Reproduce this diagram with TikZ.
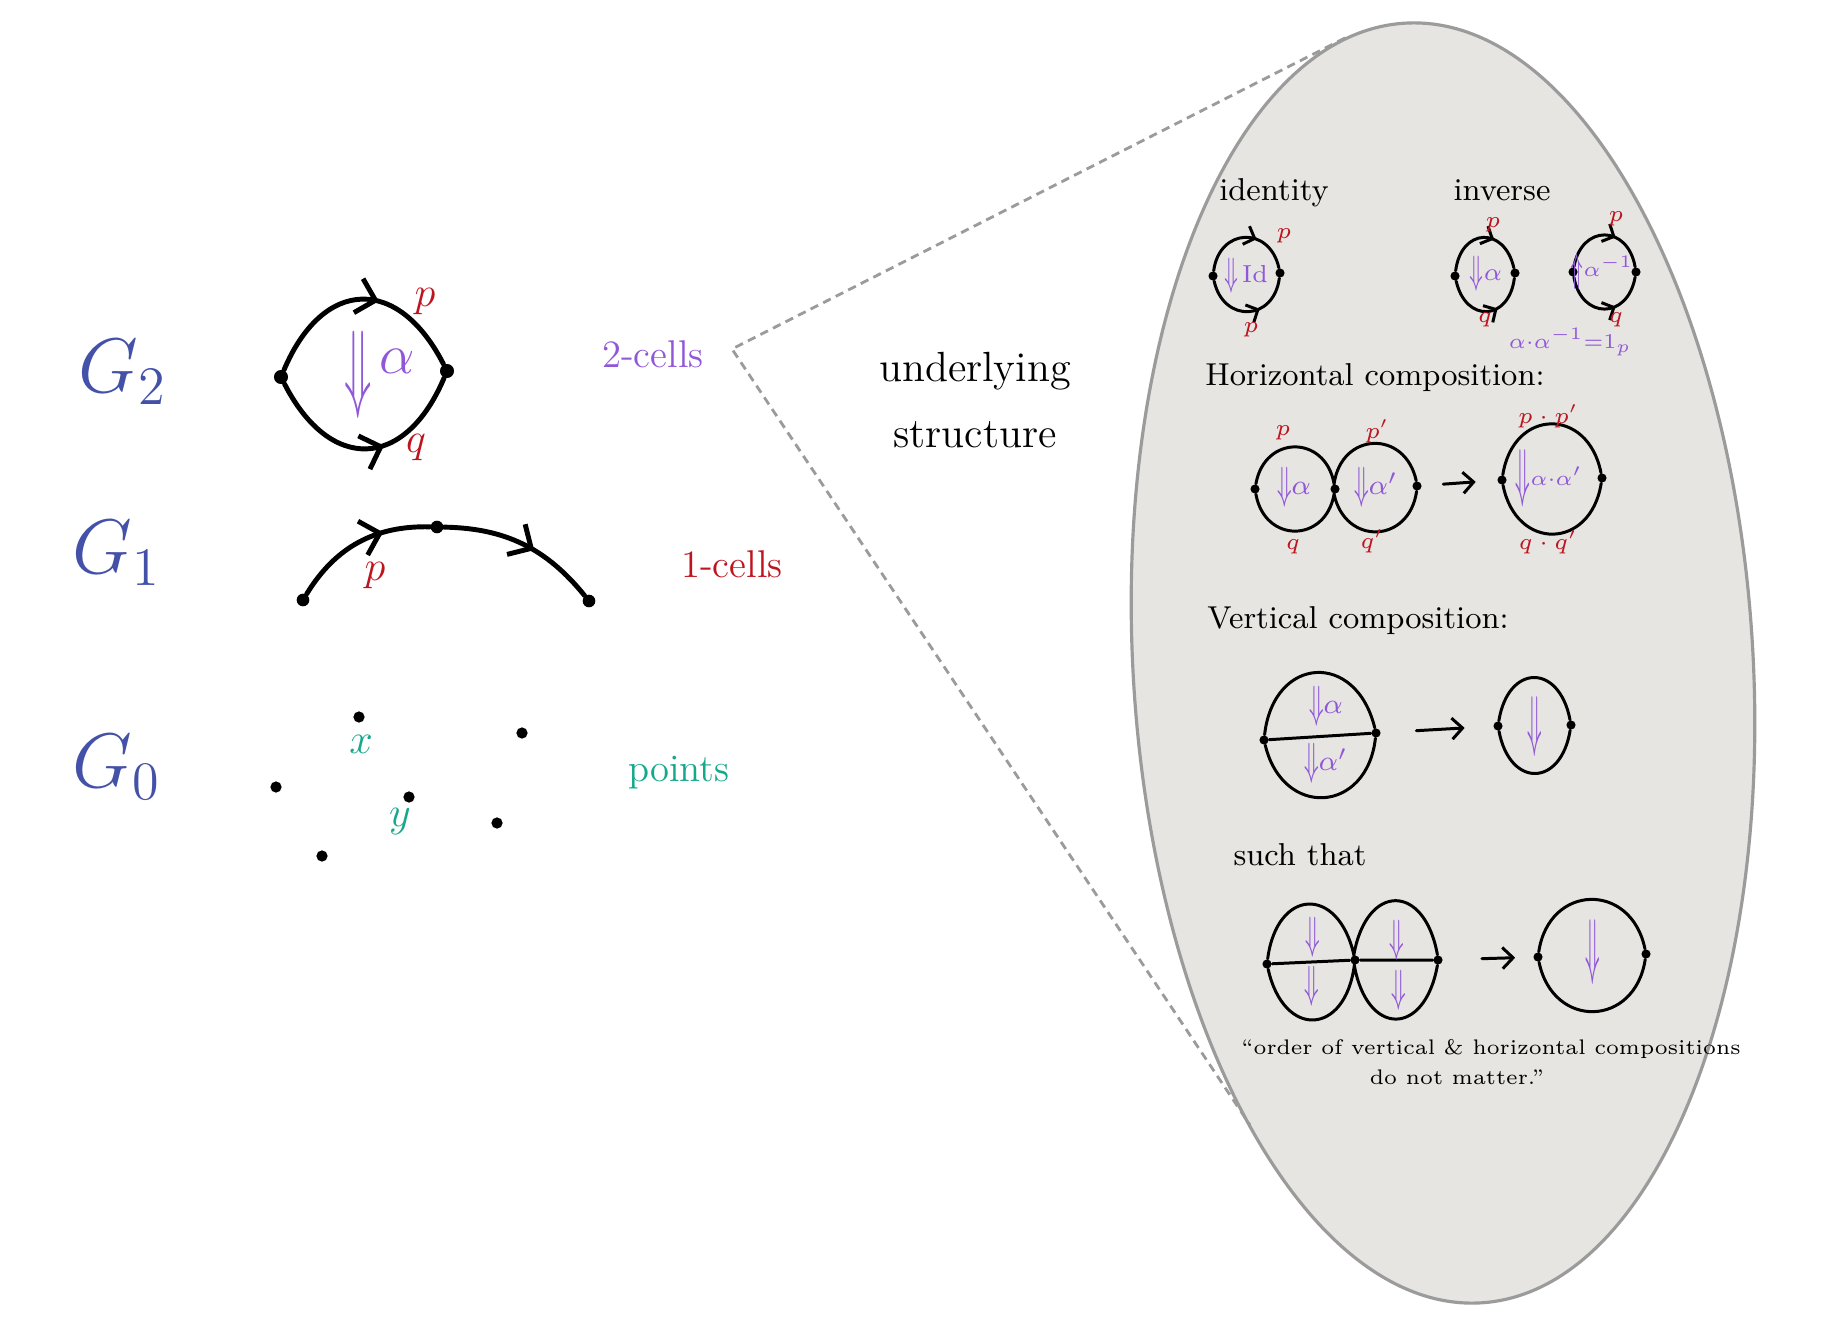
\RequirePackage{fix-cm}
\documentclass[tikz,border=0pt]{standalone}
\usetikzlibrary{arrows.meta,decorations.markings}

\definecolor{gblue}{HTML}{4451A8}
\definecolor{cellpurple}{HTML}{9057D9}
\definecolor{cellred}{HTML}{BE141E}
\definecolor{ptteal}{HTML}{16A88C}
\definecolor{lensgray}{HTML}{E6E5E1}
\definecolor{rimgray}{HTML}{9B9B9B}

\newcommand{\dnarr}[1][1.6]{\ensuremath{\vcenter{\hbox{\scalebox{0.8}[#1]{$\Downarrow$}}}}}
\newcommand{\uparr}[1][1.6]{\ensuremath{\vcenter{\hbox{\scalebox{0.8}[#1]{$\Uparrow$}}}}}

\begin{document}
\begin{tikzpicture}[
    x=0.01cm, y=0.01cm,
    bigdot/.style={circle, fill=black, inner sep=0pt, minimum size=#1},
    bigdot/.default=4pt,
    tinydot/.style={circle, fill=black, inner sep=0pt, minimum size=2.6pt},
    cell/.style={line width=1.4pt, line cap=round},
    thincell/.style={line width=0.85pt, line cap=round},
    midarrow/.style={postaction={decorate, decoration={markings,
        mark=at position #1 with {\arrow{Straight Barb[length=5pt,width=10pt]}}}}},
    midarrow/.default=0.58,
    smallarrow/.style={postaction={decorate, decoration={markings,
        mark=at position #1 with {\arrow{Straight Barb[length=2.6pt,width=5.5pt]}}}}},
    smallarrow/.default=0.62,
    gradelabel/.style={text=gblue, font=\fontsize{22}{26}\selectfont},
    cellname/.style={font=\fontsize{11}{13}\selectfont},
    onename/.style={text=cellred, font=\fontsize{12}{14}\selectfont},
    ptname/.style={text=ptteal, font=\fontsize{12}{14}\selectfont},
    tinyname/.style={text=cellred, font=\fontsize{6.5}{8}\selectfont, inner sep=1pt},
    twocell/.style={text=cellpurple, font=\fontsize{8}{10}\selectfont, inner sep=1pt},
    heading/.style={font=\fontsize{9}{11}\selectfont},
    remark/.style={font=\fontsize{6}{8}\selectfont},
    maps/.style={thincell, -{Straight Barb[length=3pt,width=6pt]}},
    lens/.style={fill=lensgray, draw=rimgray, line width=0.9pt},
    zoomline/.style={draw=rimgray, line width=0.8pt, dash pattern=on 2.4pt off 1.6pt}
]
    \path[use as bounding box, fill=white] (0,0) rectangle (1836,-1336);
    \draw[lens, rotate around={3.4:(1443,-663)}] (1443,-663) ellipse [x radius=310, y radius=641];

    \node[gradelabel] (gtwo) at (123,-372) {$G_2$};
    \node[gradelabel] (gone) at (117,-553) {$G_1$};
    \node[gradelabel] (gzero) at (117,-767) {$G_0$};

    \node[bigdot] (src) at (281,-377) {};
    \node[bigdot] (tgt) at (447,-371) {};
    \draw[cell, midarrow] (src) to[bend left=65, looseness=1.6] (tgt);
    \draw[cell, midarrow] (src) to[bend right=65, looseness=1.6] (tgt);
    \node[onename] (ptop) at (425,-302) {$p$};
    \node[onename] (qbot) at (416,-448) {$q$};
    \node[twocell, font=\fontsize{16}{18}\selectfont] (alphacell) at (358,-375) {\dnarr[1.75]};
    \node[twocell, font=\fontsize{16}{18}\selectfont] (alphaname) at (397,-361) {$\alpha$};
    \node[cellname, text=cellpurple] (twocells) at (653,-354) {2-cells};

    \node[bigdot=3.6pt] (ostart) at (303,-600) {};
    \node[bigdot=3.6pt] (omid) at (437,-527) {};
    \node[bigdot=3.6pt] (oend) at (589,-601) {};
    \draw[cell, midarrow=0.68] (ostart) to[bend left=30] (omid);
    \draw[cell, midarrow=0.58] (omid) to[bend left=25] (oend);
    \node[onename] (pone) at (375,-576) {$p$};
    \node[cellname, text=cellred] (onecells) at (732,-564) {1-cells};

    \node[bigdot=3.2pt] (ptx) at (359,-717) {};
    \node[bigdot=3.2pt] (pta) at (522,-733) {};
    \node[bigdot=3.2pt] (ptb) at (276,-787) {};
    \node[bigdot=3.2pt] (pty) at (409,-797) {};
    \node[bigdot=3.2pt] (ptc) at (497,-823) {};
    \node[bigdot=3.2pt] (ptd) at (322,-856) {};
    \node[ptname] (xname) at (361,-744) {$x$};
    \node[ptname] (yname) at (400,-822) {$y$};
    \node[cellname, text=ptteal] (points) at (679,-773) {points};

    \node[align=center, font=\fontsize{12}{19}\selectfont] (under) at (975,-400) {underlying\\structure};

    \coordinate (apex) at (732,-349);
    \coordinate (rimtop) at (1345,-38);
    \coordinate (rimlow) at (1250,-1125);
    \draw[zoomline] (rimtop) -- (apex) -- (rimlow);

    \node[heading] (identity) at (1274,-193) {identity};
    \node[tinydot] (idl) at (1213,-276) {};
    \node[tinydot] (idr) at (1280,-273) {};
    \draw[thincell, smallarrow] (idl) to[bend left=80, looseness=1.7] (idr);
    \draw[thincell, smallarrow] (idl) to[bend right=80, looseness=1.7] (idr);
    \node[tinyname] (idp) at (1284,-236) {$p$};
    \node[tinyname] (idpp) at (1251,-330) {$p$};
    \node[twocell, font=\fontsize{7}{8}\selectfont] (idcell) at (1246,-276) {\dnarr\,Id};

    \node[heading] (inverse) at (1502,-190) {inverse};
    \node[tinydot] (ival) at (1455,-276) {};
    \node[tinydot] (ivar) at (1515,-273) {};
    \draw[thincell, smallarrow] (ival) to[bend left=80, looseness=1.9] (ivar);
    \draw[thincell, smallarrow] (ival) to[bend right=80, looseness=1.9] (ivar);
    \node[tinyname] (ivp) at (1493,-225) {$p$};
    \node[tinyname] (ivq) at (1485,-320) {$q$};
    \node[twocell, font=\fontsize{7}{8}\selectfont] (ivcell) at (1486,-274) {\dnarr$\alpha$};
    \node[tinydot] (ivbl) at (1573,-272) {};
    \node[tinydot] (ivbr) at (1636,-272) {};
    \draw[thincell, smallarrow] (ivbl) to[bend left=80, looseness=1.81] (ivbr);
    \draw[thincell, smallarrow] (ivbl) to[bend right=80, looseness=1.81] (ivbr);
    \node[tinyname] (ivbp) at (1616,-219) {$p$};
    \node[tinyname] (ivbq) at (1616,-320) {$q$};
    \node[twocell, font=\fontsize{6}{7}\selectfont] (ivbcell) at (1602,-271) {\uparr[1.9]$\alpha^{-1}$};
    \node[twocell, font=\fontsize{6}{7}\selectfont] (ideq) at (1570,-342) {$\alpha{\cdot}\alpha^{-1}{=}1_p$};

    \node[heading] (horiz) at (1375,-378) {Horizontal composition:};
    \node[tinydot] (ha) at (1255,-489) {};
    \node[tinydot] (hb) at (1335,-489) {};
    \node[tinydot] (hc) at (1417,-486) {};
    \draw[thincell] (ha) to[bend left=80, looseness=1.64] (hb) to[bend left=80, looseness=1.64] (hc);
    \draw[thincell] (ha) to[bend right=80, looseness=1.64] (hb) to[bend right=80, looseness=1.64] (hc);
    \node[tinyname] (hp) at (1283,-433) {$p$};
    \node[tinyname] (hpb) at (1377,-431) {$p'$};
    \node[tinyname] (hq) at (1293,-547) {$q$};
    \node[tinyname] (hqb) at (1372,-541) {$q'$};
    \node[twocell] (hacell) at (1294,-487) {\dnarr$\alpha$};
    \node[twocell] (hbcell) at (1376,-487) {\dnarr$\alpha'$};
    \node[tinydot] (hd) at (1502,-480) {};
    \node[tinydot] (he) at (1602,-478) {};
    \draw[maps, shorten <=6pt, shorten >=6pt] (hc) -- (hd);
    \draw[thincell] (hd) to[bend left=80, looseness=1.76] (he);
    \draw[thincell] (hd) to[bend right=80, looseness=1.76] (he);
    \node[tinyname] (hpp) at (1548,-416) {$p\cdot p'$};
    \node[tinyname] (hqq) at (1548,-542) {$q\cdot q'$};
    \node[twocell] (hdcell) at (1549,-478) {\dnarr[2.3]{\fontsize{6}{7}\selectfont$\alpha{\cdot}\alpha'$}};

    \node[heading] (vert) at (1358,-621) {Vertical composition:};
    \node[tinydot] (va) at (1264,-740) {};
    \node[tinydot] (vb) at (1376,-733) {};
    \draw[thincell] (va) to[bend left=80, looseness=1.85] (vb);
    \draw[thincell] (va) to[bend right=80, looseness=1.76] (vb);
    \draw[thincell] (va) -- (vb);
    \node[twocell] (vacell) at (1326,-706) {\dnarr$\alpha$};
    \node[twocell] (vbcell) at (1326,-763) {\dnarr$\alpha'$};
    \node[tinydot] (vc) at (1498,-726) {};
    \node[tinydot] (vd) at (1571,-725) {};
    \draw[maps, shorten <=10pt, shorten >=8pt] (vb) -- (vc);
    \draw[thincell] (vc) to[bend left=80, looseness=2.08] (vd);
    \draw[thincell] (vc) to[bend right=80, looseness=2.08] (vd);
    \node[twocell] (vccell) at (1535,-727) {\dnarr[2.4]};

    \node[heading] (such) at (1300,-855) {such that};
    \node[tinydot] (sa) at (1267,-964) {};
    \node[tinydot] (sb) at (1355,-960) {};
    \node[tinydot] (sc) at (1438,-960) {};
    \draw[thincell] (sa) to[bend left=80, looseness=2.12] (sb) to[bend left=80, looseness=2.25] (sc);
    \draw[thincell] (sa) to[bend right=80, looseness=2.12] (sb) to[bend right=80, looseness=2.25] (sc);
    \draw[thincell] (sa) -- (sb) -- (sc);
    \node[twocell] (sacell) at (1313,-937) {\dnarr};
    \node[twocell] (sbcell) at (1312,-986) {\dnarr};
    \node[twocell] (sccell) at (1397,-940) {\dnarr};
    \node[twocell] (sdcell) at (1399,-990) {\dnarr};
    \node[tinydot] (sd) at (1538,-957) {};
    \node[tinydot] (se) at (1646,-954) {};
    \draw[maps, shorten <=11pt, shorten >=5pt] (sc) -- (sd);
    \draw[thincell] (sd) to[bend left=80, looseness=1.66] (se);
    \draw[thincell] (sd) to[bend right=80, looseness=1.66] (se);
    \node[twocell] (secell) at (1593,-952) {\dnarr[2.6]};

    \node[remark] (remarka) at (1491,-1049) {``order of vertical \& horizontal compositions};
    \node[remark] (remarkb) at (1457,-1077) {do not matter.''};
\end{tikzpicture}
\end{document}
